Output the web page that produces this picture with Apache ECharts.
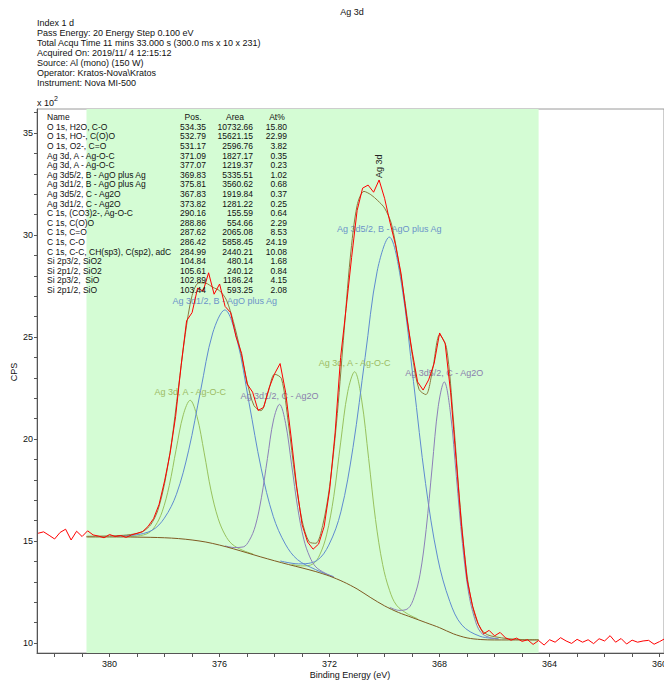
<!DOCTYPE html>
<html>
<head>
<meta charset="utf-8">
<script src="https://cdn.jsdelivr.net/npm/echarts@6/dist/echarts.min.js"></script>
<style>
  html, body { margin: 0; padding: 0; background: #ffffff; }
  #chart { width: 664px; height: 681px; }
</style>
</head>
<body>
<div id="chart"></div>
<script>
// ---- Acquisition header ----
const titleText = 'Ag 3d';
const headerLines = [
  'Index 1 d',
  'Pass Energy: 20 Energy Step 0.100 eV',
  'Total Acqu Time 11 mins 33.000 s (300.0 ms x 10 x 231)',
  'Acquired On: 2019/11/ 4 12:15:12',
  'Source: Al (mono) (150 W)',
  'Operator: Kratos-Nova\\Kratos',
  'Instrument: Nova MI-500'
];
const xAxisTitle = 'Binding Energy (eV)';
const yAxisTitle = 'CPS';

// ---- Quantification table ----
const tableHeads = ['Name', 'Pos.', 'Area', 'At%'];
const compNames = [
  'O 1s, H2O, C-O', 'O 1s, HO-, C(O)O', 'O 1s, O2-, C=O',
  'Ag 3d, A - Ag-O-C', 'Ag 3d, A - Ag-O-C',
  'Ag 3d5/2, B - AgO plus Ag', 'Ag 3d1/2, B - AgO plus Ag',
  'Ag 3d5/2, C - Ag2O', 'Ag 3d1/2, C - Ag2O',
  'C 1s, (CO3)2-, Ag-O-C', 'C 1s, C(O)O', 'C 1s, C=O', 'C 1s, C-O',
  'C 1s, C-C, CH(sp3), C(sp2), adC',
  'Si 2p3/2, SiO2', 'Si 2p1/2, SiO2', 'Si 2p3/2,  SiO', 'Si 2p1/2, SiO'
];
const compPos = ['534.35','532.79','531.17','371.09','377.07','369.83','375.81','367.83','373.82',
  '290.16','288.86','287.62','286.42','284.99','104.84','105.61','102.89','103.44'];
const compArea = ['10732.66','15621.15','2596.76','1827.17','1219.37','5335.51','3560.62','1919.84','1281.22',
  '155.59','554.66','2065.08','5858.45','2440.21','480.14','240.12','1186.24','593.25'];
const compAt = ['15.80','22.99','3.82','0.35','0.23','1.02','0.68','0.37','0.25',
  '0.64','2.29','8.53','24.19','10.08','1.68','0.84','4.15','2.08'];

// ---- Axis ticks (binding energy in eV, intensity in CPS x 10^2) ----
const beLabels = [360, 364, 368, 372, 376, 380];
const beTicks = [360,361,362,363,364,365,366,367,368,369,370,371,372,373,374,375,376,377,378,379,380,381,382];
const cpsLabels = [10, 15, 20, 25, 30, 35];
const cpsTicks = [10,11,12,13,14,15,16,17,18,19,20,21,22,23,24,25,26,27,28,29,30,31,32,33,34,35,36];

// fitting region (eV)
const regionStart = 380.84;
const regionEnd = 364.4;

// ---- Measured spectrum [BE, CPS x 10^2] ----
const scan = [
  [382.6,15.38],[382.4,15.45],[382.2,15.28],[382.0,15.10],[381.8,15.42],[381.6,15.58],[381.4,15.05],[381.2,15.48],
  [381.0,15.22],[380.8,15.50],[380.6,15.30],[380.4,15.24],[380.2,15.16],[380.0,15.32],[379.8,15.22],[379.6,15.27],
  [379.4,15.18],[379.2,15.30],[379.0,15.38],[378.8,15.46],[378.6,15.72],[378.4,16.10],[378.2,16.80],[378.0,17.95],
  [377.8,19.30],[377.6,21.10],[377.4,23.60],[377.2,25.80],[377.0,26.20],[376.8,27.40],[376.6,27.25],[376.4,28.15],
  [376.2,27.10],[376.0,27.60],[375.8,26.50],[375.6,26.20],[375.4,25.00],[375.2,24.20],[375.0,22.70],[374.8,22.30],
  [374.6,21.40],[374.4,21.55],[374.2,22.50],[374.0,23.20],[373.8,23.70],[373.6,22.30],[373.4,20.10],[373.2,17.70],
  [373.0,15.80],[372.8,14.95],[372.6,14.60],[372.4,14.85],[372.2,15.70],[372.0,17.50],[371.8,20.30],[371.6,24.00],
  [371.4,26.40],[371.2,28.90],[371.0,31.20],[370.8,32.30],[370.6,32.45],[370.4,32.10],[370.2,32.70],[370.0,31.80],
  [369.8,30.60],[369.6,29.50],[369.4,28.10],[369.2,26.00],[369.0,24.30],[368.8,22.80],[368.6,22.40],[368.4,22.90],
  [368.2,23.70],[368.0,25.20],[367.8,24.70],[367.6,22.30],[367.4,19.00],[367.2,15.70],[367.0,13.10],[366.8,11.80],
  [366.6,10.95],[366.4,10.45],[366.2,10.62],[366.0,10.35],[365.8,10.52],[365.6,10.25],[365.4,10.14],[365.2,10.24],
  [365.0,10.08],[364.8,10.16],[364.6,9.93],[364.4,10.12],[364.2,9.90],[364.0,10.16],[363.8,10.04],[363.6,10.26],
  [363.4,10.10],[363.2,9.98],[363.0,10.18],[362.8,10.04],[362.6,10.16],[362.4,9.97],[362.2,10.21],[362.0,10.10],
  [361.8,10.36],[361.6,10.04],[361.4,10.22],[361.2,9.95],[361.0,10.14],[360.8,10.04],[360.6,10.10],[360.4,10.13],
  [360.2,9.94],[360.0,10.07],[359.8,10.22]
];

// ---- Shirley background ----
const shirley = [
  [380.84,15.20],[380.0,15.20],[379.5,15.20],[379.0,15.19],[378.5,15.18],[378.0,15.16],[377.5,15.12],[377.0,15.05],
  [376.5,14.95],[376.0,14.80],[375.5,14.62],[375.0,14.42],[374.5,14.22],[374.0,14.03],[373.5,13.85],[373.0,13.68],
  [372.5,13.50],[372.0,13.28],[371.5,13.00],[371.0,12.65],[370.5,12.22],[370.0,11.82],[369.5,11.50],[369.0,11.25],
  [368.5,11.00],[368.0,10.75],[367.5,10.45],[367.0,10.25],[366.5,10.17],[366.0,10.15],[365.0,10.15],[364.4,10.15]
];

// ---- Fit envelope ----
const envelope = [
  [380.84,15.23],[380.0,15.25],[379.5,15.28],[379.0,15.37],[378.75,15.50],[378.5,15.81],[378.25,16.49],[378.0,17.83],
  [377.75,19.82],[377.5,22.48],[377.25,25.12],[377.0,27.04],[376.75,27.66],[376.5,27.64],[376.25,27.44],[376.0,27.27],
  [375.75,26.81],[375.5,25.76],[375.25,24.38],[375.0,22.80],[374.75,21.64],[374.5,21.39],[374.25,22.23],[374.0,23.18],
  [373.75,22.96],[373.5,20.78],[373.25,18.09],[373.0,16.00],[372.75,14.97],[372.5,14.89],[372.25,15.77],[372.0,17.67],
  [371.75,20.78],[371.5,24.84],[371.25,28.87],[371.0,31.45],[370.75,32.14],[370.5,31.98],[370.25,31.69],[370.0,31.32],
  [369.75,30.54],[369.5,28.77],[369.25,26.64],[369.0,24.17],[368.75,22.44],[368.5,22.18],[368.25,23.45],[368.0,25.11],
  [367.75,24.48],[367.5,20.98],[367.25,16.64],[367.0,13.28],[366.75,11.52],[366.5,10.68],[366.25,10.40],[366.0,10.31],
  [365.5,10.21],[365.0,10.17],[364.4,10.16]
];

// ---- Fitted components (drawn on top of the background) ----
const agA32 = [
  [379.36,15.23],[378.98,15.25],[378.59,15.39],[378.34,15.74],[378.09,16.43],[377.83,17.72],[377.58,19.49],[377.32,21.19],
  [377.07,21.90],[376.82,21.10],[376.56,19.32],[376.31,17.46],[376.05,16.09],[375.80,15.30],[375.55,14.85],[375.17,14.55],[374.78,14.36]
];
const agA52 = [
  [373.38,13.85],[373.00,13.78],[372.61,13.87],[372.36,14.32],[372.11,15.30],[371.85,17.17],[371.60,19.81],[371.34,22.32],
  [371.09,23.30],[370.84,21.96],[370.58,19.04],[370.33,16.05],[370.07,13.84],[369.82,12.58],[369.57,11.86],[369.18,11.44],[368.80,11.19]
];
const agB32 = [
  [379.77,15.25],[379.11,15.29],[378.45,15.53],[378.01,16.12],[377.57,17.29],[377.13,19.42],[376.69,22.38],[376.25,25.20],
  [375.81,26.33],[375.37,24.89],[374.93,21.78],[374.49,18.57],[374.05,16.21],[373.61,14.85],[373.17,14.09],[372.51,13.60],[371.85,13.25]
];
const agB52 = [
  [373.79,14.02],[373.13,13.88],[372.47,14.04],[372.03,14.80],[371.59,16.43],[371.15,19.58],[370.71,23.99],[370.27,28.23],
  [369.83,29.90],[369.39,27.64],[368.95,22.82],[368.51,17.82],[368.07,14.17],[367.63,12.04],[367.19,10.88],[366.53,10.33],[365.87,10.22]
];
const agC32 = [
  [375.80,14.76],[375.47,14.68],[375.14,14.71],[374.92,15.03],[374.70,15.74],[374.48,17.12],[374.26,19.05],[374.04,20.93],
  [373.82,21.70],[373.60,20.77],[373.38,18.73],[373.16,16.63],[372.94,15.09],[372.72,14.22],[372.50,13.73],[372.17,13.43],[371.84,13.22]
];
const agC52 = [
  [369.81,11.75],[369.48,11.60],[369.15,11.69],[368.93,12.23],[368.71,13.37],[368.49,15.56],[368.27,18.63],[368.05,21.59],
  [367.83,22.80],[367.61,21.33],[367.39,18.15],[367.17,14.88],[366.95,12.50],[366.73,11.22],[366.51,10.53],[366.18,10.27],[365.85,10.20]
];

// ---- styling ----
const FONT = '"Liberation Sans", Arial, sans-serif';
const GREEN = '#98c25e', BLUE = '#5f8bd0', PURPLE = '#8c80b8';
const GREEN_TXT = '#9cbb62', BLUE_TXT = '#6b93c9', PURPLE_TXT = '#8a80ad';

function component(name, data, lineColor, textColor) {
  return {
    type: 'line', name: name, data: data, smooth: 0.35, symbol: 'none', z: 3,
    lineStyle: { color: lineColor, width: 1 },
    markPoint: {
      symbol: 'circle', symbolSize: 0, silent: true,
      data: [{ type: 'max' }],
      label: { show: true, position: 'top', distance: 4, formatter: name,
               color: textColor, fontSize: 9, fontFamily: FONT }
    }
  };
}

// ---- text blocks ----
const graphics = [];
function txt(x, y, text, size, align, extra) {
  const el = { type: 'text', x: x, y: y, z: 100,
    style: { text: text, font: size + 'px ' + FONT, fill: '#111', align: align, verticalAlign: 'middle' } };
  return Object.assign(el, extra || {});
}
graphics.push(txt(352, 12, titleText, 9, 'center'));
headerLines.forEach(function (t, i) { graphics.push(txt(37, 22.5 + i * 10, t, 9, 'left')); });
graphics.push(txt(37, 103, 'x 10', 9, 'left'));
graphics.push(txt(54, 98.5, '2', 7, 'left'));
graphics.push(txt(14, 372, yAxisTitle, 9, 'center', { rotation: Math.PI / 2 }));
graphics.push(txt(350, 675, xAxisTitle, 9, 'center'));

// table: Name left-aligned, numeric columns right-aligned
const colX = [47, 206, 253, 287];
const colAlign = ['left', 'right', 'right', 'right'];
const headX = [47, 193, 235, 277];
tableHeads.forEach(function (h, j) {
  graphics.push(txt(headX[j], 117, h, 8.5, j === 0 ? 'left' : 'center'));
});
compNames.forEach(function (n, i) {
  const row = [n, compPos[i], compArea[i], compAt[i]];
  row.forEach(function (cell, j) {
    graphics.push(txt(colX[j], 126.8 + i * 9.6, cell, 8.5, colAlign[j]));
  });
});

const chart = echarts.init(document.getElementById('chart'), null, { renderer: 'svg' });
chart.setOption({
  animation: false,
  backgroundColor: '#ffffff',
  textStyle: { fontFamily: FONT },
  grid: { left: 37, top: 109, right: 0, bottom: 28, show: true, borderColor: '#9a9a9a', borderWidth: 1,
          containLabel: false, outerBoundsMode: 'none' },
  xAxis: {
    type: 'value', inverse: true, min: 359.84, max: 382.64,
    axisLine: { onZero: false, lineStyle: { color: '#555', width: 1 } },
    axisTick: { customValues: beTicks, length: 4, lineStyle: { color: '#555' } },
    axisLabel: { customValues: beLabels, color: '#111', fontSize: 9, margin: 6, fontFamily: FONT, hideOverlap: false },
    splitLine: { show: false }
  },
  yAxis: {
    type: 'value', min: 9.51, max: 36.18,
    axisLine: { show: true, onZero: false, lineStyle: { color: '#555', width: 1 } },
    axisTick: { show: true, customValues: cpsTicks, length: 3, lineStyle: { color: '#555' } },
    axisLabel: { customValues: cpsLabels, color: '#111', fontSize: 9, margin: 4, fontFamily: FONT },
    splitLine: { show: false }
  },
  graphic: graphics,
  series: [
    {
      type: 'line', name: 'region', data: [], z: 1, silent: true,
      markArea: { silent: true, itemStyle: { color: '#d4fcd4' },
        data: [[{ xAxis: regionStart }, { xAxis: regionEnd }]] }
    },
    component('Ag 3d, A - Ag-O-C', agA32, GREEN, GREEN_TXT),
    component('Ag 3d, A - Ag-O-C', agA52, GREEN, GREEN_TXT),
    component('Ag 3d1/2, B - AgO plus Ag', agB32, BLUE, BLUE_TXT),
    component('Ag 3d5/2, B - AgO plus Ag', agB52, BLUE, BLUE_TXT),
    component('Ag 3d1/2, C - Ag2O', agC32, PURPLE, PURPLE_TXT),
    component('Ag 3d5/2, C - Ag2O', agC52, PURPLE, PURPLE_TXT),
    { type: 'line', name: 'background', data: shirley, smooth: 0.3, symbol: 'none', z: 4,
      lineStyle: { color: '#7f5a22', width: 1 } },
    { type: 'line', name: 'envelope', data: envelope, smooth: 0.3, symbol: 'none', z: 5,
      lineStyle: { color: '#8c7a3e', width: 1 } },
    { type: 'line', name: 'Ag 3d', data: scan, symbol: 'none', z: 6,
      lineStyle: { color: '#ff0000', width: 1 },
      markPoint: {
        symbol: 'circle', symbolSize: 0, silent: true,
        data: [{ type: 'max' }],
        label: { show: true, position: 'top', distance: 2, rotate: 90, align: 'left', verticalAlign: 'middle',
                 formatter: 'Ag 3d', color: '#222', fontSize: 9, fontFamily: FONT }
      }
    }
  ]
});
</script>
</body>
</html>
